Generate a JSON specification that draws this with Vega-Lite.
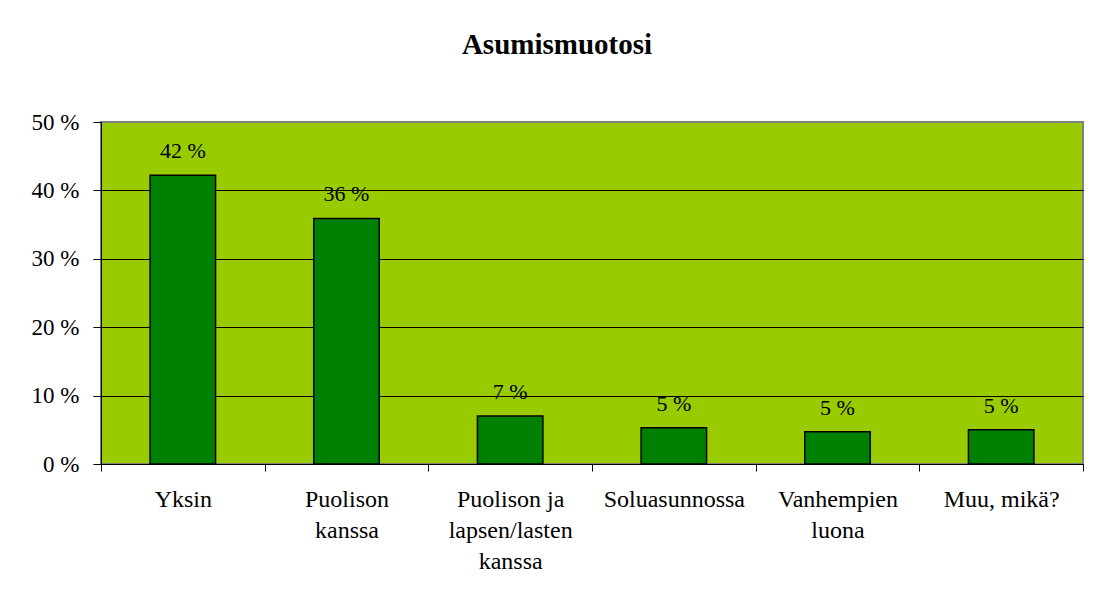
{
  "$schema": "https://vega.github.io/schema/vega-lite/v6.json",
  "autosize": "none",
  "width": 982,
  "height": 342,
  "padding": {"left": 101, "top": 122, "right": 13, "bottom": 137},
  "background": "white",
  "title": {
    "text": "Asumismuotosi",
    "font": "Liberation Serif",
    "fontSize": 29,
    "fontWeight": "bold",
    "color": "black",
    "anchor": "middle",
    "dx": -35,
    "offset": 51
  },
  "data": {
    "values": [
      {"asumismuoto": "Yksin", "osuus": 42.2, "label": "42 %"},
      {"asumismuoto": "Puolison kanssa", "osuus": 35.9, "label": "36 %"},
      {"asumismuoto": "Puolison ja lapsen/lasten kanssa", "osuus": 7.0, "label": "7 %"},
      {"asumismuoto": "Soluasunnossa", "osuus": 5.3, "label": "5 %"},
      {"asumismuoto": "Vanhempien luona", "osuus": 4.7, "label": "5 %"},
      {"asumismuoto": "Muu, mikä?", "osuus": 5.0, "label": "5 %"}
    ]
  },
  "encoding": {
    "x": {
      "field": "asumismuoto",
      "type": "nominal",
      "sort": null,
      "scale": {"paddingInner": 0, "paddingOuter": 0},
      "axis": {
        "title": null,
        "labelAngle": 0,
        "tickBand": "extent",
        "tickSize": 7,
        "tickColor": "black",
        "domainColor": "black",
        "labelFont": "Liberation Serif",
        "labelFontSize": 24,
        "labelColor": "black",
        "labelPadding": 16,
        "labelLineHeight": 31,
        "labelBaseline": "top",
        "labelExpr": "datum.label == 'Puolison kanssa' ? ['Puolison', 'kanssa'] : datum.label == 'Puolison ja lapsen/lasten kanssa' ? ['Puolison ja', 'lapsen/lasten', 'kanssa'] : datum.label == 'Vanhempien luona' ? ['Vanhempien', 'luona'] : datum.label"
      }
    },
    "y": {
      "field": "osuus",
      "type": "quantitative",
      "scale": {"domain": [0, 50], "nice": false},
      "axis": {
        "title": null,
        "values": [0, 10, 20, 30, 40, 50],
        "labelExpr": "datum.value + ' %'",
        "labelFont": "Liberation Serif",
        "labelFontSize": 23,
        "labelColor": "black",
        "labelPadding": 14,
        "tickSize": 8,
        "tickColor": "black",
        "domainColor": "black",
        "grid": true,
        "gridColor": {"condition": {"test": "datum.value == 50", "value": "#808080"}, "value": "black"},
        "gridOpacity": 1,
        "gridWidth": 1
      }
    }
  },
  "layer": [
    {
      "mark": {"type": "bar", "color": "#008000", "stroke": "black", "strokeWidth": 1.5, "width": {"band": 0.4}}
    },
    {
      "mark": {"type": "text", "font": "Liberation Serif", "fontSize": 22, "color": "black", "baseline": "alphabetic", "dy": -17},
      "encoding": {"text": {"field": "label"}}
    }
  ],
  "config": {
    "view": {"fill": "#99CC00", "stroke": "#808080", "strokeWidth": 2},
    "axis": {"domainWidth": 1, "tickWidth": 1}
  }
}
